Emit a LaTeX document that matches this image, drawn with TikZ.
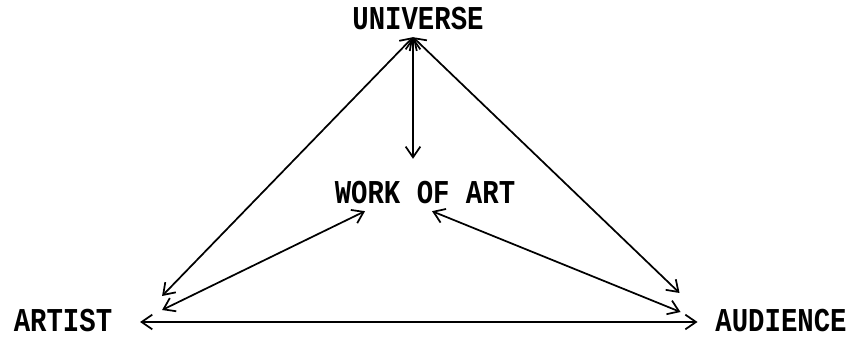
\documentclass[tikz,border=0pt]{standalone}
\usepackage{fontspec}
\newfontfamily\typefont[FakeStretch=0.82]{Liberation Mono}
\usepackage{tikz}
\usetikzlibrary{positioning, arrows.meta, calc}

\begin{document}
\begin{tikzpicture}[x=0.75pt, y=-0.75pt, >={Straight Barb[length=8pt, width=11pt]}, line width=1.3pt,
    label/.style={inner sep=0pt, font=\typefont\bfseries\fontsize{25}{28}\selectfont}]
    \useasboundingbox (0,0) rectangle (852,338);

    \node[label] (univ) at (418,19) {UNIVERSE};
    \node[label] (woa) at (425,193) {WORK OF ART};
    \node[label] (artist) at (63,321) {ARTIST};
    \node[label] (aud) at (781,321) {AUDIENCE};

    \draw[<->] ($(univ.south)+(-5,6)$) -- ($(artist.east)+(49,-25)$);
    \draw[<->] ($(univ.south)+(-5,6)$) -- ($(woa.north)+(-12,-22)$);
    \draw[<->] ($(univ.south)+(-5,6)$) -- ($(aud.west)+(-35,-28)$);
    \draw[<->] ($(woa.south)+(-60,6)$) -- ($(artist.east)+(49,-11)$);
    \draw[<->] ($(woa.south)+(7,6)$) -- ($(aud.west)+(-34,-9)$);
    \draw[<->] ($(artist.east)+(27,1)$) -- ($(aud.west)+(-17,1)$);
  \end{tikzpicture}
\end{document}
